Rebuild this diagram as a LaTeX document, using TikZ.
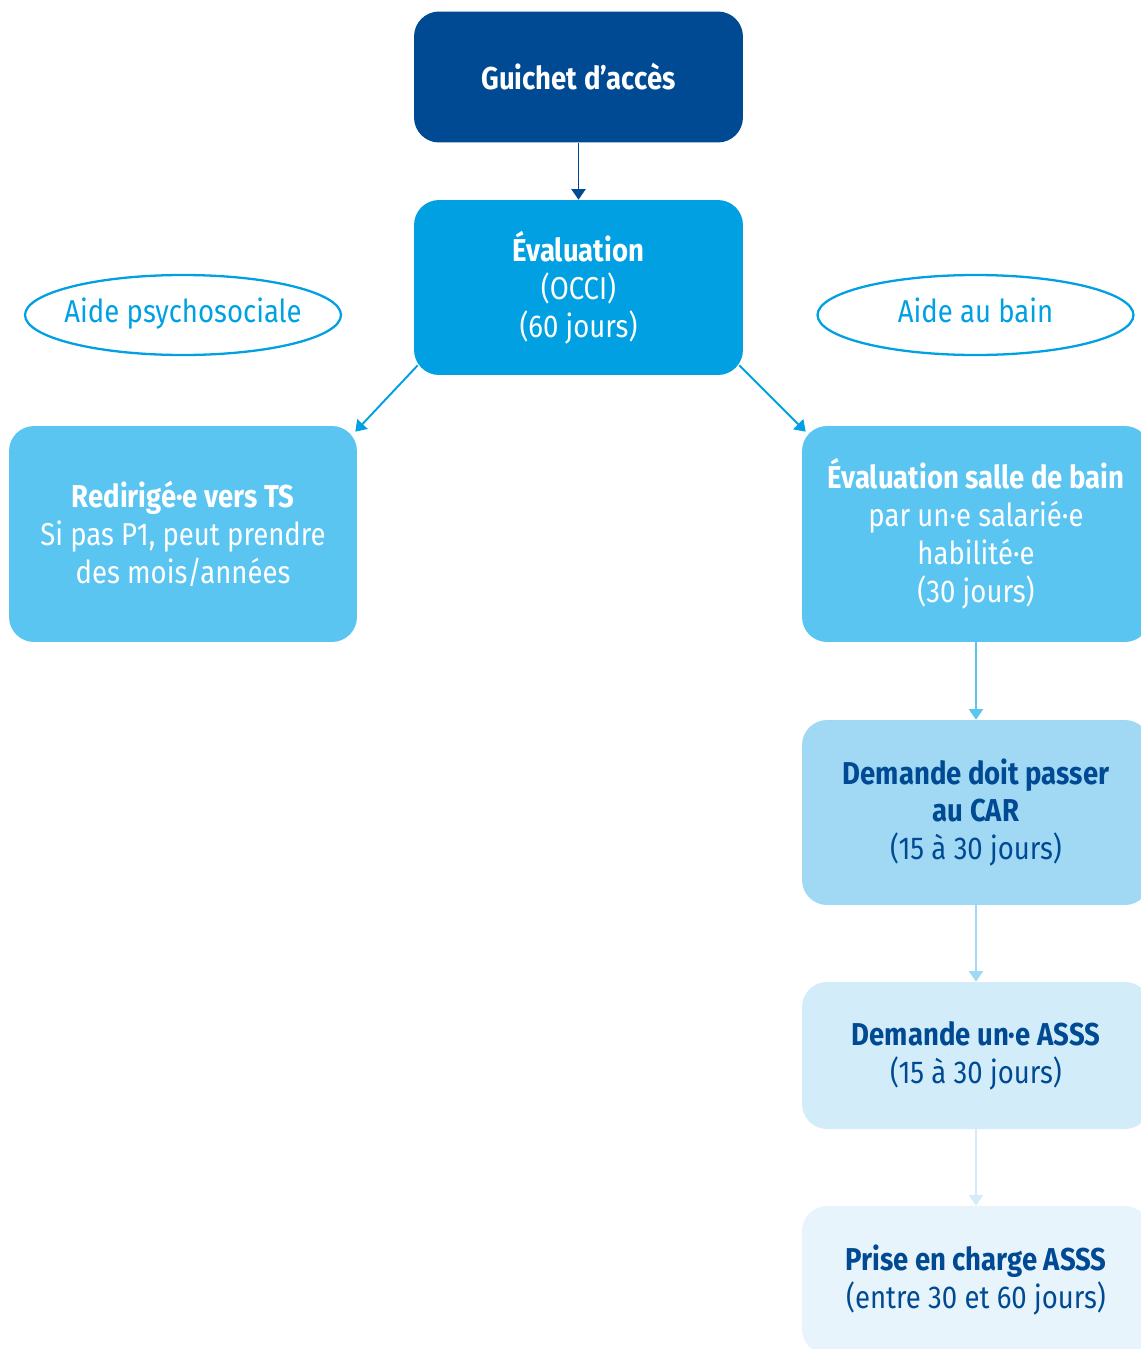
\documentclass[tikz,border=0pt]{standalone}
\usepackage{fontspec}
\setmainfont[FakeStretch=0.87]{Fira Sans}
\usetikzlibrary{arrows.meta,shapes.geometric,calc}
\definecolor{navy}{HTML}{004A93}
\definecolor{cyanmid}{HTML}{00A0E3}
\definecolor{skyblue}{HTML}{5BC5F2}
\definecolor{paleblue}{HTML}{A1D9F5}
\definecolor{lightblue}{HTML}{D3ECFA}
\definecolor{mistblue}{HTML}{E8F4FC}
\begin{document}
\begin{tikzpicture}[x=0.02cm,y=-0.02cm]
			\tikzset{stage/.style = {rectangle, rounded corners=0.5cm, align=center, inner sep=0pt,
				font=\fontsize{18}{21.6}\selectfont}}
			\tikzset{track/.style = {ellipse, draw=cyanmid, line width=1.3pt, text=cyanmid,
				inner xsep=-0.2cm, inner ysep=0pt, minimum width=6.32cm, minimum height=1.6cm,
				text height=12pt, text depth=4pt, font=\fontsize{18}{21.6}\selectfont}}
			\tikzset{flow/.style = {-{Triangle[width=8pt,length=6pt]}, line width=1.1pt}}
			\clip (0,0) rectangle (1141,1349);
			% Top of the chain
			\node[stage, fill=navy, text=white, minimum width=6.58cm, minimum height=2.62cm] (guichet) at (578.5,77) {\bfseries Guichet d’accès};
			\node[stage, fill=cyanmid, text=white, minimum width=6.58cm, minimum height=3.5cm] (evaluation) at (578.5,287.5) {\bfseries Évaluation\\(OCCI)\\(60 jours)};
			% The two branches
			\node[track] (psycho) at (183,315) {Aide psychosociale};
			\node[track] (bain) at (975.5,315) {Aide au bain};
			\node[stage, fill=skyblue, text=white, minimum width=6.96cm, minimum height=4.32cm] (ts) at (183,534) {\bfseries Redirigé·e vers TS\\Si pas P1, peut prendre\\des mois/années};
			\node[stage, fill=skyblue, text=white, minimum width=6.96cm, minimum height=4.32cm] (sdb) at (976,534) {\bfseries Évaluation salle de bain\\par un·e salarié·e\\habilité·e\\(30 jours)};
			\node[stage, fill=paleblue, text=navy, minimum width=6.96cm, minimum height=3.7cm] (car) at (976,812.5) {\bfseries Demande doit passer\\\bfseries au CAR\\(15 à 30 jours)};
			\node[stage, fill=lightblue, text=navy, minimum width=6.96cm, minimum height=2.94cm] (asss) at (976,1055.5) {\bfseries Demande un·e ASSS\\(15 à 30 jours)};
			\node[stage, fill=mistblue, text=navy, minimum width=6.96cm, minimum height=2.96cm] (prise) at (976,1280) {\bfseries Prise en charge ASSS\\(entre 30 et 60 jours)};
			% Connectors
			\draw[flow, navy] (guichet) -- (evaluation);
			\draw[flow, cyanmid] ($(evaluation.south west)+(4,-10)$) -- ($(ts.north east)+(-2,6)$);
			\draw[flow, cyanmid] ($(evaluation.south east)+(-4,-10)$) -- ($(sdb.north west)+(4,6)$);
			\draw[flow, skyblue] (sdb) -- (car);
			\draw[flow, paleblue] (car) -- (asss);
			\draw[flow, lightblue] (asss) -- (prise);
		\end{tikzpicture}
\end{document}
